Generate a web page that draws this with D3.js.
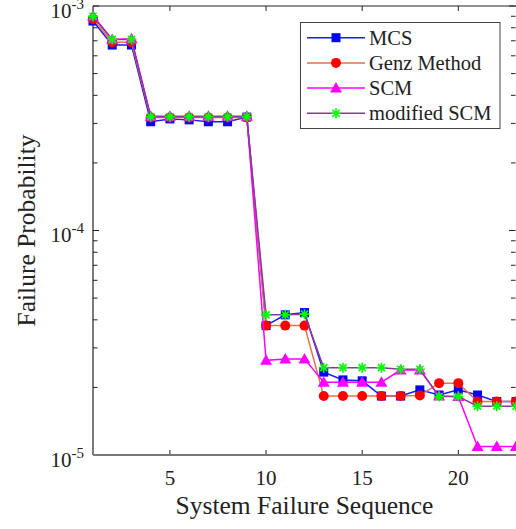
<!DOCTYPE html>
<html><head><meta charset="utf-8">
<script src="https://cdn.jsdelivr.net/npm/d3@7"></script>
<style>body{margin:0;background:#fff}svg{display:block}</style>
</head><body>
<script>
const xValues = d3.range(1, 24);
const mcs = [8.57e-4,6.7e-4,6.7e-4,3.05e-4,3.14e-4,3.11e-4,3.05e-4,3.05e-4,3.2e-4,3.77e-5,4.21e-5,4.31e-5,2.34e-5,2.16e-5,2.14e-5,1.83e-5,1.83e-5,1.95e-5,1.85e-5,1.95e-5,1.85e-5,1.73e-5,1.73e-5];
const genz = [8.75e-4,6.89e-4,6.89e-4,3.19e-4,3.19e-4,3.19e-4,3.19e-4,3.19e-4,3.19e-4,3.77e-5,3.77e-5,3.77e-5,1.83e-5,1.83e-5,1.83e-5,1.83e-5,1.83e-5,1.84e-5,2.09e-5,2.09e-5,1.73e-5,1.73e-5,1.73e-5];
const scm = [9.03e-4,7.1e-4,7.15e-4,3.23e-4,3.23e-4,3.23e-4,3.23e-4,3.23e-4,3.23e-4,2.64e-5,2.68e-5,2.68e-5,2.11e-5,2.11e-5,2.11e-5,2.11e-5,2.39e-5,2.39e-5,1.83e-5,1.82e-5,1.09e-5,1.09e-5,1.09e-5];
const modScm = [9.0e-4,7.1e-4,7.1e-4,3.21e-4,3.21e-4,3.21e-4,3.21e-4,3.21e-4,3.21e-4,4.21e-5,4.21e-5,4.24e-5,2.45e-5,2.45e-5,2.45e-5,2.45e-5,2.41e-5,2.41e-5,1.82e-5,1.82e-5,1.65e-5,1.65e-5,1.65e-5];
const seriesNames = ["MCS","Genz Method","SCM","modified SCM"];
const xTicks = [5,10,15,20];
const yTickExps = [-3,-4,-5];

const W = 516, H = 529;
const m = {left: 93, right: 516, top: 6, bottom: 455};
const font = "'Liberation Serif','Times New Roman',serif";

const svg = d3.select("body").append("svg").attr("width", W).attr("height", H)
  .style("font-family", font);

const x = d3.scaleLinear().domain([1, 23]).range([m.left, m.right]);
const y = d3.scaleLog().domain([1e-5, 1e-3]).range([m.bottom, m.top]);

const axisG = svg.append("g");
const minorVals = [];
for (let e = -5; e < -3; e++) for (let k = 2; k <= 9; k++) minorVals.push(k * Math.pow(10, e));

axisG.selectAll(".yminL").data(minorVals).join("line")
  .attr("x1", m.left).attr("x2", m.left + 4.5).attr("y1", d => y(d)).attr("y2", d => y(d))
  .attr("stroke", "#222").attr("stroke-width", 1);
axisG.selectAll(".ymajL").data(yTickExps).join("line")
  .attr("x1", m.left).attr("x2", m.left + 6).attr("y1", d => y(Math.pow(10, d))).attr("y2", d => y(Math.pow(10, d)))
  .attr("stroke", "#222").attr("stroke-width", 1);
axisG.selectAll(".yminR").data(minorVals).join("line")
  .attr("x1", m.right - 0.5).attr("x2", m.right - 5).attr("y1", d => y(d)).attr("y2", d => y(d))
  .attr("stroke", "#222").attr("stroke-width", 1);
axisG.selectAll(".ymajR").data(yTickExps).join("line")
  .attr("x1", m.right - 0.5).attr("x2", m.right - 7).attr("y1", d => y(Math.pow(10, d))).attr("y2", d => y(Math.pow(10, d)))
  .attr("stroke", "#222").attr("stroke-width", 1);
axisG.selectAll(".xtb").data(xTicks).join("line")
  .attr("x1", d => x(d)).attr("x2", d => x(d)).attr("y1", m.bottom).attr("y2", m.bottom - 5)
  .attr("stroke", "#222").attr("stroke-width", 1);
axisG.selectAll(".xtt").data(xTicks).join("line")
  .attr("x1", d => x(d)).attr("x2", d => x(d)).attr("y1", m.top).attr("y2", m.top + 5)
  .attr("stroke", "#222").attr("stroke-width", 1);
axisG.append("line").attr("x1", m.left).attr("x2", m.left).attr("y1", m.top).attr("y2", m.bottom)
  .attr("stroke", "#222").attr("stroke-width", 1.2);
axisG.append("line").attr("x1", m.left).attr("x2", m.right).attr("y1", m.top).attr("y2", m.top)
  .attr("stroke", "#222").attr("stroke-width", 1.2);
axisG.append("line").attr("x1", m.left).attr("x2", m.right).attr("y1", m.bottom).attr("y2", m.bottom)
  .attr("stroke", "#777").attr("stroke-width", 2);

svg.selectAll(".xl").data(xTicks).join("text")
  .attr("x", d => x(d)).attr("y", 485).attr("text-anchor", "middle")
  .attr("font-size", 21).attr("fill", "#222").text(d => d);
const yl = svg.selectAll(".yl").data(yTickExps).join("text")
  .attr("x", 84).attr("y", d => y(Math.pow(10, d)) + 11.5).attr("text-anchor", "end")
  .attr("font-size", 21).attr("fill", "#222");
yl.append("tspan").text("10");
yl.append("tspan").attr("font-size", 15).attr("dy", -9).text(d => "-" + Math.abs(d));

svg.append("text").attr("x", (m.left + m.right) / 2).attr("y", 514).attr("text-anchor", "middle")
  .attr("font-size", 25.5).attr("fill", "#222").text("System Failure Sequence");
svg.append("text").attr("transform", `translate(35,${(m.top + m.bottom) / 2}) rotate(-90)`)
  .attr("text-anchor", "middle").attr("font-size", 25.5).attr("fill", "#222").text("Failure Probability");

const series = [
  {name: seriesNames[0], vals: mcs, line: "#1a1aff", fill: "#0000ff", marker: "square"},
  {name: seriesNames[1], vals: genz, line: "#e2734a", fill: "#ff0000", marker: "circle"},
  {name: seriesNames[2], vals: scm, line: "#ff00ff", fill: "#ff00ff", marker: "triangle"},
  {name: seriesNames[3], vals: modScm, line: "#8a3a9a", fill: "#00ff00", marker: "star"}
];
const line = d3.line().x((d, i) => x(xValues[i])).y(d => y(d));

function drawMarker(g, s, cx, cy) {
  if (s.marker === "square") {
    g.append("rect").attr("x", cx - 4.5).attr("y", cy - 4.5).attr("width", 9).attr("height", 9).attr("fill", s.fill);
  } else if (s.marker === "circle") {
    g.append("circle").attr("cx", cx).attr("cy", cy).attr("r", 5).attr("fill", s.fill);
  } else if (s.marker === "triangle") {
    g.append("path").attr("d", `M${cx},${cy - 6}L${cx + 6},${cy + 4.5}L${cx - 6},${cy + 4.5}Z`).attr("fill", s.fill);
  } else {
    const r = 5;
    let d = "";
    for (let a = 0; a < 4; a++) {
      const t = a * Math.PI / 4;
      d += `M${cx - r * Math.cos(t)},${cy - r * Math.sin(t)}L${cx + r * Math.cos(t)},${cy + r * Math.sin(t)}`;
    }
    g.append("path").attr("d", d).attr("stroke", s.fill).attr("stroke-width", 1.6).attr("fill", "none");
  }
}

series.forEach(s => {
  const g = svg.append("g");
  g.append("path").datum(s.vals).attr("d", line).attr("fill", "none")
    .attr("stroke", s.line).attr("stroke-width", 1.5);
  s.vals.forEach((v, i) => drawMarker(g, s, x(xValues[i]), y(v)));
});

const lg = svg.append("g");
lg.append("rect").attr("x", 300.5).attr("y", 22.5).attr("width", 199.5).attr("height", 106)
  .attr("fill", "#fff").attr("stroke", "#444").attr("stroke-width", 1);
series.forEach((s, i) => {
  const cy = 37.7 + i * 25.2;
  lg.append("line").attr("x1", 307).attr("x2", 365).attr("y1", cy).attr("y2", cy)
    .attr("stroke", s.line).attr("stroke-width", 1.5);
  drawMarker(lg, s, 336, cy);
  lg.append("text").attr("x", 369).attr("y", cy + 7).attr("font-size", 20.5).attr("fill", "#222").text(s.name);
});
</script>
</body></html>
